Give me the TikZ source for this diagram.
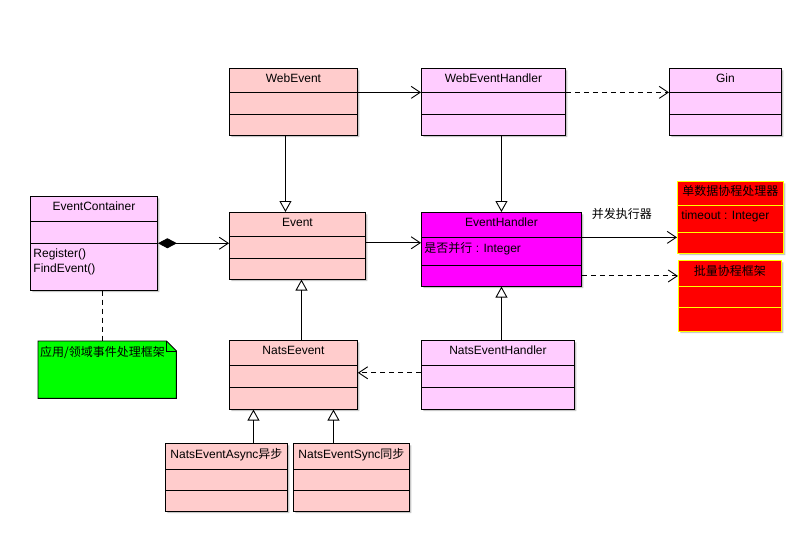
\documentclass[tikz,border=0pt]{standalone}
\usepackage{fontspec}
\setmainfont{Liberation Sans}
\newfontfamily\cjk{Noto Sans CJK SC}
\usetikzlibrary{arrows.meta, positioning, shapes.multipart, shadows, calc, backgrounds}
\definecolor{clsPink}{HTML}{FFCCCC}
\definecolor{clsLilac}{HTML}{FFCCFF}
\definecolor{clsMagenta}{HTML}{FF00FF}
\definecolor{clsRed}{HTML}{FF0000}
\definecolor{clsYellow}{HTML}{FFFF00}
\definecolor{noteGreen}{HTML}{00FF00}
\definecolor{shadowGray}{HTML}{C8C8C8}
\newcommand{\umlfont}{\fontsize{12}{14}\selectfont}
% strut: height above / depth below the baseline
\newcommand{\cpt}[2]{\rule[-#2pt]{0pt}{\dimexpr#1pt+#2pt\relax}}
\newcommand{\gap}[1]{\rule{0pt}{#1pt}}
\tikzset{
  cls/.style={rectangle split, rectangle split parts=3, draw=black, line width=0.9pt,
              rectangle split part align={center,left,left}, inner xsep=3pt, inner ysep=0pt,
              anchor=north west, font=\umlfont,
              drop shadow={shadow xshift=2pt, shadow yshift=-2pt, fill=shadowGray, opacity=1}},
  clsPinkBox/.style={cls, fill=clsPink},
  clsLilacBox/.style={cls, fill=clsLilac},
  clsMagentaBox/.style={cls, fill=clsMagenta},
  clsRedBox/.style={cls, fill=clsRed, draw=clsYellow, inner xsep=4pt},
  notebox/.style={anchor=north west, text width=134pt, align=left, inner xsep=2pt,
                  inner ysep=0pt, text height=15pt, text depth=42pt, font=\umlfont\cjk},
  assoc/.style={line width=0.9pt, -{Straight Barb[length=9pt, width=12pt]}},
  inherit/.style={line width=0.9pt, -{Triangle[open, length=11pt, width=12pt]}},
  compose/.style={line width=0.9pt, {Diamond[length=19pt, width=10pt]}-{Straight Barb[length=9pt, width=12pt]}},
  depend/.style={line width=0.9pt, dash pattern=on 5pt off 4pt, -{Straight Barb[length=9pt, width=12pt]}},
  anchorline/.style={line width=0.9pt, dash pattern=on 5pt off 4pt},
}

\begin{document}
\begin{tikzpicture}[x=1pt, y=1pt]
  \useasboundingbox (0,0) rectangle (811,558);

  % top row
  \node[clsPinkBox, minimum width=128pt] (webevent) at (229,490)
    {\cpt{14}{9}WebEvent\nodepart{two}\gap{21}\nodepart{three}\gap{20}};
  \node[clsLilacBox, minimum width=144pt] (webhandler) at (421,490)
    {\cpt{14}{9}WebEventHandler\nodepart{two}\gap{21}\nodepart{three}\gap{20}};
  \node[clsLilacBox, minimum width=112pt] (gin) at (669,490)
    {\cpt{14}{9}Gin\nodepart{two}\gap{21}\nodepart{three}\gap{20}};

  % middle row
  \node[clsLilacBox, minimum width=127pt] (container) at (30,362)
    {\cpt{14}{10}EventContainer\nodepart{two}\gap{21}%
     \nodepart{three}\cpt{14}{32}\begin{tabular}[t]{@{}l@{}}Register()\\[1pt]FindEvent()\end{tabular}};
  \node[clsPinkBox, minimum width=136pt] (event) at (229,346)
    {\cpt{14}{9}Event\nodepart{two}\gap{21}\nodepart{three}\gap{20}};
  \node[clsMagentaBox, minimum width=160pt] (handler) at (421,346)
    {\cpt{14}{10}EventHandler\nodepart{two}\cpt{15}{12}{\cjk 是否并行} : Integer\nodepart{three}\gap{20}};
  \node[clsRedBox, minimum width=106pt] (single) at (677,377)
    {\cpt{14}{9}{\cjk 单数据协程处理器}\nodepart{two}\cpt{14}{12}timeout : Integer\nodepart{three}\gap{20}};
  \node[clsRedBox, minimum width=103pt] (batch) at (678,298)
    {\cpt{15}{10}{\cjk 批量协程框架}\nodepart{two}\gap{20}\nodepart{three}\gap{23}};

  % note
  \node[notebox] (note) at (38,217) {应用/领域事件处理框架};
  \begin{scope}[on background layer]
    \draw[line width=0.9pt, fill=noteGreen] (note.north west) -- ([xshift=-10pt]note.north east)
      -- ([yshift=-10pt]note.north east) -- (note.south east) -- (note.south west) -- cycle;
    \draw[line width=0.9pt] ([xshift=-10pt]note.north east) -- ([xshift=-10pt, yshift=-10pt]note.north east)
      -- ([yshift=-10pt]note.north east);
  \end{scope}

  % bottom rows
  \node[clsPinkBox, minimum width=128pt] (natsevent) at (229,218)
    {\cpt{14}{10}NatsEevent\nodepart{two}\gap{21}\nodepart{three}\gap{21}};
  \node[clsLilacBox, minimum width=153pt] (natshandler) at (421,218)
    {\cpt{14}{10}NatsEventHandler\nodepart{two}\gap{21}\nodepart{three}\gap{21}};
  \node[clsPinkBox, minimum width=122pt] (async) at (165,115)
    {\cpt{15}{10}NatsEventAsync{\cjk 异步}\nodepart{two}\gap{20}\nodepart{three}\gap{20}};
  \node[clsPinkBox, minimum width=116pt] (sync) at (293,115)
    {\cpt{15}{10}NatsEventSync{\cjk 同步}\nodepart{two}\gap{20}\nodepart{three}\gap{20}};

  % connectors
  \coordinate (weS) at ([xshift=-8pt]webevent.south);
  \coordinate (neN) at ([xshift=8pt]natsevent.north);
  \coordinate (neL) at ([xshift=-40pt]natsevent.south);
  \coordinate (neR) at ([xshift=40pt]natsevent.south);
  \coordinate (ecS) at ([xshift=8pt]container.south);
  \coordinate (evE) at ([yshift=3pt]event.east);
  \coordinate (nhW) at ([yshift=2pt]natshandler.west);
  \coordinate (ehB) at ($(handler.two split east)!0.5!(handler.south east)$);

  \draw[assoc] (webevent.text split east) -- (webhandler.text split west);
  \draw[depend] (webhandler.text split east) -- (gin.text split west);
  \draw[inherit] (weS) -- (weS |- event.north);
  \draw[inherit] (handler.north |- webhandler.south) -- (handler.north);
  \draw[compose] (container.two split east) -- (container.two split east -| event.west);
  \draw[assoc] (evE) -- (evE -| handler.west);
  \draw[assoc] (handler.text split east) -- (handler.text split east -| single.west)
    node[pos=0.42, above=17pt, inner sep=0pt, font=\umlfont\cjk] (conclabel) {并发执行器};
  \draw[depend] (ehB) -- (ehB -| batch.west);
  \draw[anchorline] (ecS) -- (ecS |- note.north);
  \draw[inherit] (neN) -- (neN |- event.south);
  \draw[inherit] (handler.south |- natshandler.north) -- (handler.south);
  \draw[depend] (nhW) -- (nhW -| natsevent.east);
  \draw[inherit] (neL |- async.north) -- (neL);
  \draw[inherit] (neR |- sync.north) -- (neR);
\end{tikzpicture}
\end{document}
